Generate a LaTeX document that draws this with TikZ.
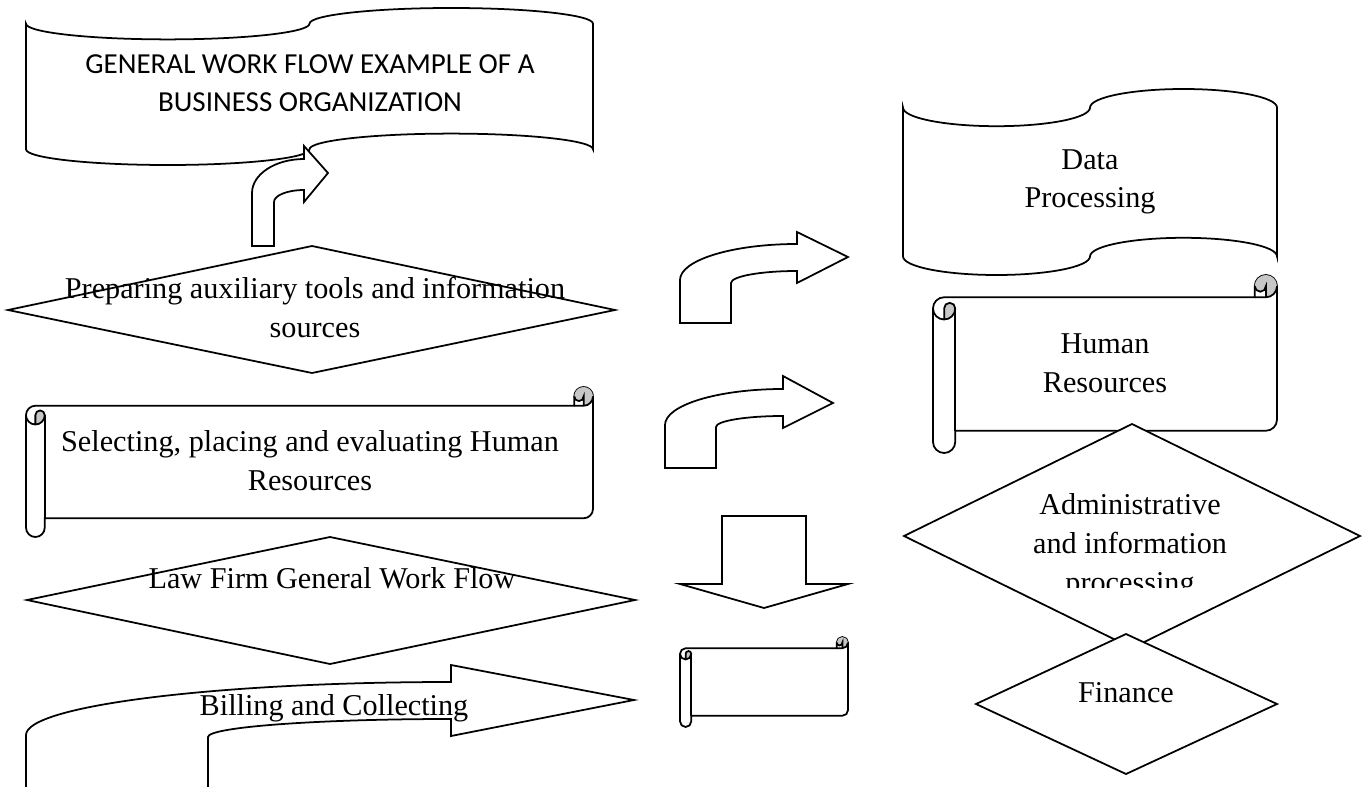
\documentclass[tikz,border=0pt]{standalone}
\usepackage{fontspec}
\usepackage{tikz}
\setmainfont{Liberation Serif}
\newfontfamily\calib{Carlito}
\tikzset{
	shapeline/.style={draw=black, line width=1pt, fill=white},
	curl/.style     ={fill=black!22},
	lbl/.style      ={font=\fontsize{17.2}{22.1}\selectfont, align=center, inner sep=0pt, anchor=base},
	ttl/.style      ={font=\calib\fontsize{16.5}{22.1}\selectfont, align=center, inner sep=0pt, anchor=base},
}
% wave banner: x0 y0 x1 y1 (pixel units, y down)
\newcommand{\wavebox}[4]{%
	\pgfmathsetmacro\wvq{(#3-#1)/4}\pgfmathsetmacro\wva{(#4-#2)/10}%
	\draw[shapeline] (#1,#2+\wva) arc[start angle=180,end angle=0,x radius=\wvq,y radius=\wva]
		arc[start angle=180,end angle=360,x radius=\wvq,y radius=\wva] -- (#3,#4-\wva)
		arc[start angle=0,end angle=-180,x radius=\wvq,y radius=\wva]
		arc[start angle=0,end angle=180,x radius=\wvq,y radius=\wva] -- cycle;}
% horizontal scroll: L T R B
\newcommand{\scrollbox}[4]{%
	\pgfmathsetmacro\scC{0.125*min(#3-#1,#4-#2)}\pgfmathsetmacro\scH{\scC/2}\pgfmathsetmacro\scQ{\scC/4}%
	\draw[shapeline] (#1,#2+1.5*\scC) arc[start angle=180,end angle=270,radius=\scH] -- (#3-\scC,#2+\scC)
		-- (#3-\scC,#2+\scH) arc[start angle=180,end angle=360,radius=\scH] -- (#3,#4-1.5*\scC)
		arc[start angle=0,end angle=90,radius=\scH] -- (#1+\scC,#4-\scC) -- (#1+\scC,#4-\scH)
		arc[start angle=0,end angle=180,radius=\scH] -- cycle;
	\fill[curl] (#1+\scH,#2+2*\scC) arc[start angle=90,end angle=0,radius=\scH] arc[start angle=0,end angle=-180,radius=\scQ] -- cycle;
	\fill[curl] (#3-\scH,#2+\scC) arc[start angle=90,end angle=-180,radius=\scH] arc[start angle=180,end angle=0,radius=\scQ] -- cycle;
	\draw[shapeline, fill=none] (#3-\scC,#2+\scC) -- (#3-\scH,#2+\scC) arc[start angle=90,end angle=0,radius=\scH];
	\draw[shapeline, fill=none] (#3-\scH,#2+\scC) -- (#3-\scH,#2+\scH) arc[start angle=0,end angle=180,radius=\scQ];
	\draw[shapeline, fill=none] (#1+\scH,#2+2*\scC) -- (#1+\scH,#2+1.5*\scC) arc[start angle=180,end angle=360,radius=\scQ]
		arc[start angle=0,end angle=180,radius=\scH];
	\draw[shapeline, fill=none] (#1+\scC,#2+1.5*\scC) -- (#1+\scC,#4-\scC);}

\begin{document}
\begin{tikzpicture}[x=0.02cm, y=-0.02cm]
	\clip (0,0) rectangle (1365,787);
	% left column
	\wavebox{26}{8}{593}{165}
	\node[ttl] (title) at (310,112) {GENERAL WORK FLOW EXAMPLE OF A\\BUSINESS ORGANIZATION};
	\draw[shapeline] (252,246) -- (252,193) arc[start angle=180,end angle=270,x radius=52,y radius=34]
		-- (304,146) -- (328,173) -- (304,202) -- (304,190)
		arc[start angle=270,end angle=180,x radius=30,y radius=12] -- (274,246) -- cycle;
	\draw[shapeline] (8,310) -- (312,246) -- (615,310) -- (312,373) -- cycle;
	\node[lbl] (prep) at (315,337) {Preparing auxiliary tools and information\\sources};
	\scrollbox{26}{387}{593}{537}
	\node[lbl] (select) at (310,490) {Selecting, placing and evaluating Human\\Resources};
	\draw[shapeline] (27,600) -- (330,537) -- (635,600) -- (330,664) -- cycle;
	\node[lbl] (law) at (332,588) {Law Firm General Work Flow};
	\draw[shapeline] (26,800) -- (26,735) arc[start angle=180,end angle=270,x radius=425,y radius=53]
		-- (451,665) -- (634,700) -- (451,736) -- (451,719)
		arc[start angle=270,end angle=180,x radius=243,y radius=18] -- (208,800) -- cycle;
	\node[lbl] (bill) at (334,715) {Billing and Collecting};
	% middle column
	\draw[shapeline] (680,323) -- (680,280) arc[start angle=180,end angle=270,x radius=117,y radius=36]
		-- (797,232) -- (848,257) -- (797,283) -- (797,271)
		arc[start angle=270,end angle=180,x radius=66,y radius=12] -- (731,323) -- cycle;
	\draw[shapeline] (665,468) -- (665,425) arc[start angle=180,end angle=270,x radius=118,y radius=36]
		-- (783,376) -- (833,403) -- (783,428) -- (783,416)
		arc[start angle=270,end angle=180,x radius=67,y radius=11] -- (716,468) -- cycle;
	\draw[shapeline] (722,516) -- (806,516) -- (806,584) -- (848,584) -- (764,608) -- (680,584) -- (722,584) -- cycle;
	\scrollbox{680}{637}{848}{727}
	% right column
	\wavebox{903}{89}{1277}{275}
	\node[lbl] (data) at (1090,208) {Data\\Processing};
	\scrollbox{933}{275}{1277}{453}
	\node[lbl] (hr) at (1105,392) {Human\\Resources};
	\draw[shapeline] (904,536) -- (1132,424) -- (1360,536) -- (1132,648) -- cycle;
	\begin{scope}
		\clip (900,420) rectangle (1365,587);
		\node[lbl] (admin) at (1130,592) {Administrative\\and information\\processing};
	\end{scope}
	\draw[shapeline] (976,704) -- (1126,634) -- (1277,704) -- (1126,774) -- cycle;
	\node[lbl] (fin) at (1126,702) {Finance};
\end{tikzpicture}
\end{document}
